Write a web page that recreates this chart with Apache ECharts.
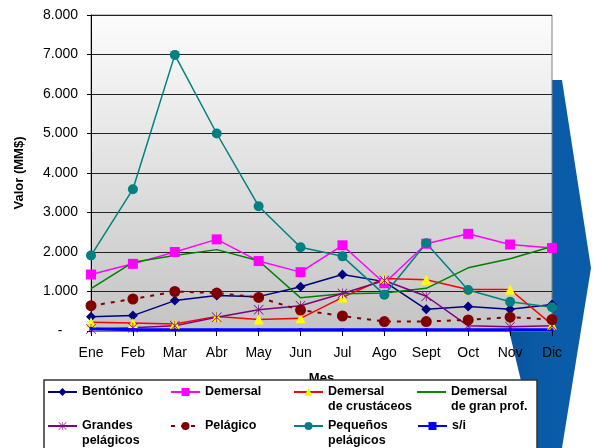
<!DOCTYPE html>
<html>
<head>
<meta charset="utf-8">
<script src="https://cdn.jsdelivr.net/npm/echarts@6/dist/echarts.min.js"></script>
<style>
  html, body { margin: 0; padding: 0; background: #fff; }
  #chart { width: 600px; height: 448px; }
</style>
</head>
<body>
<div id="chart"></div>
<script>
// meses
var meses = ['Ene', 'Feb', 'Mar', 'Abr', 'May', 'Jun', 'Jul', 'Ago', 'Sept', 'Oct', 'Nov', 'Dic']

// valores (MM$)
var bentonico = [360, 390, 770, 900, 870, 1120, 1430, 1250, 550, 620, 550, 670]
var demersal = [1430, 1700, 2000, 2320, 1770, 1490, 2170, 1210, 2210, 2460, 2190, 2100]
var demCrustaceos = [220, 200, 180, 370, 290, 320, 850, 1330, 1300, 1050, 1050, 160]
var demGranProf = [1070, 1740, 1910, 2060, 1780, 840, 940, 960, 1080, 1600, 1830, 2140]
var grandesPelagicos = [50, 80, 130, 350, 540, 640, 950, 1280, 880, 130, 110, 130]
var pelagico = [640, 810, 1000, 960, 850, 530, 380, 240, 240, 280, 350, 290]
var pequenosPelagicos = [1910, 3590, 6990, 5000, 3160, 2120, 1890, 920, 2220, 1040, 740, 600]
var sinInfo = [60, 30, 30, 30, 30, 30, 30, 30, 30, 30, 30, 30]

var FONT = 'Liberation Sans, Arial, sans-serif'

// asterisco (marcador de Excel)
var asterisk = 'path://M0,1L1,0L20,19L19,20Z M19,0L20,1L1,20L0,19Z M9.3,0L10.7,0L10.7,20L9.3,20Z'

function mkLine(name, data, color, symbol, symSize, markColor, extra) {
  var s = {
    name: name,
    type: 'line',
    data: data,
    symbol: symbol,
    symbolSize: symSize,
    showSymbol: symbol !== 'none',
    lineStyle: { color: color, width: 1.5 },
    itemStyle: { color: markColor || color, borderWidth: 0 }
  }
  if (extra) {
    for (var k in extra) s[k] = extra[k]
  }
  return s
}

// una leyenda por elemento, para dejarlas en columnas como en Excel
function mkLegend(name, label, left, top, icon) {
  var item = { name: name }
  if (icon) item.icon = icon
  return {
    data: [item],
    left: left,
    top: top,
    padding: 0,
    itemWidth: 29,
    itemHeight: 10,
    itemGap: 0,
    selectedMode: false,
    formatter: function() { return label },
    textStyle: {
      fontFamily: FONT,
      fontSize: 12.5,
      fontWeight: 'bold',
      color: '#000',
      lineHeight: 15
    }
  }
}

var myChart = echarts.init(document.getElementById('chart'))

myChart.setOption({
  animation: false,
  textStyle: { fontFamily: FONT },
  grid: {
    left: 91,
    right: 48,
    top: 15,
    bottom: 117,
    show: true,
    borderColor: '#808080',
    borderWidth: 1,
    backgroundColor: {
      type: 'linear', x: 0, y: 0, x2: 0, y2: 1,
      colorStops: [
        { offset: 0, color: '#fcfcfc' },
        { offset: 1, color: '#c4c4c4' }
      ]
    }
  },
  graphic: [
    {
      // flecha azul de fondo
      type: 'polygon',
      z: -1,
      shape: {
        points: [[470, 80], [562, 80], [591, 268], [562, 448], [537, 448], [485, 230]]
      },
      style: {
        fill: {
          type: 'linear', x: 0, y: 0, x2: 1, y2: 0,
          colorStops: [
            { offset: 0, color: '#0a4f96' },
            { offset: 0.7, color: '#0a5ca8' },
            { offset: 1, color: '#0a5ca8' }
          ]
        }
      }
    },
    {
      // caja de la leyenda
      type: 'rect',
      z: 3,
      shape: { x: 44, y: 380, width: 493, height: 80 },
      style: { fill: '#fff', stroke: '#333', lineWidth: 1.5 }
    }
  ],
  legend: [
    mkLegend('Bentónico', 'Bentónico', 47, 384.5),
    mkLegend('Demersal', 'Demersal', 170, 384.5),
    mkLegend('Demersal de crustáceos', '\nDemersal\nde crustáceos', 293, 369.5),
    mkLegend('Demersal de gran prof.', '\nDemersal\nde gran prof.', 417, 369.5, 'path://M0,4L30,4L30,6L0,6Z'),
    mkLegend('Grandes pelágicos', '\nGrandes\npelágicos', 47, 403.5),
    mkLegend('Pelágico', 'Pelágico', 170, 418.5),
    mkLegend('Pequeños pelágicos', '\nPequeños\npelágicos', 293, 403.5),
    mkLegend('s/i', 's/i', 417, 418.5)
  ],
  xAxis: {
    type: 'category',
    data: meses,
    boundaryGap: false,
    name: 'Mes',
    nameLocation: 'middle',
    nameGap: 41,
    nameTextStyle: { fontFamily: FONT, fontSize: 13, fontWeight: 'bold', color: '#000' },
    axisLine: { lineStyle: { color: '#808080', width: 1 } },
    axisTick: { show: true, length: 5, lineStyle: { color: '#000' } },
    axisLabel: { color: '#000', fontSize: 14, fontFamily: FONT, margin: 15, interval: 0 },
    splitLine: { show: false }
  },
  yAxis: {
    type: 'value',
    min: 0,
    max: 8000,
    interval: 1000,
    name: 'Valor (MM$)',
    nameLocation: 'middle',
    nameGap: 65,
    nameTextStyle: { fontFamily: FONT, fontSize: 13, fontWeight: 'bold', color: '#000' },
    axisLine: { show: true, lineStyle: { color: '#000', width: 1 } },
    axisTick: { show: true, length: 4, lineStyle: { color: '#000' } },
    axisLabel: {
      color: '#000',
      fontSize: 14,
      fontFamily: FONT,
      margin: 13,
      formatter: function(v) {
        if (v === 0) return '-\u00a0\u00a0\u00a0\u00a0'
        return (v / 1000).toFixed(3)
      }
    },
    splitLine: { show: true, lineStyle: { color: '#222', width: 1 } }
  },
  series: [
    mkLine('Bentónico', bentonico, '#000080', 'diamond', 10),
    mkLine('Demersal', demersal, '#ff00ff', 'rect', 10),
    mkLine('Demersal de crustáceos', demCrustaceos, '#ff0000', 'triangle', 10, '#ffff00'),
    mkLine('Demersal de gran prof.', demGranProf, '#008000', 'none', 0),
    mkLine('Grandes pelágicos', grandesPelagicos, '#800080', asterisk, 10),
    mkLine('Pelágico', pelagico, '#800000', 'circle', 11, null, {
      lineStyle: { color: '#800000', width: 2, type: [4, 6] }
    }),
    mkLine('Pequeños pelágicos', pequenosPelagicos, '#008080', 'circle', 10),
    mkLine('s/i', sinInfo, '#0000ff', 'rect', 3, null, {
      lineStyle: { color: '#0000ff', width: 3 }
    })
  ]
})
</script>
</body>
</html>
